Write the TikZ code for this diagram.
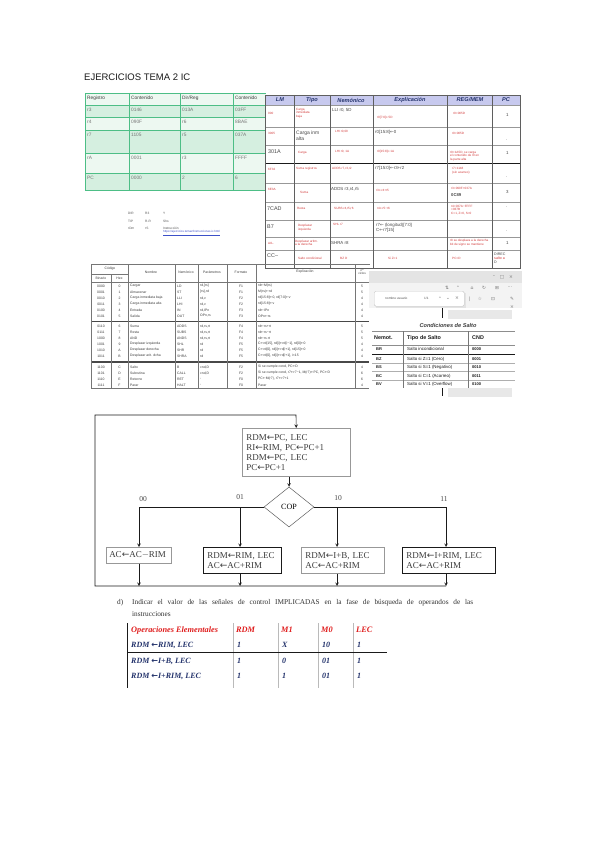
\documentclass[tikz,border=0pt]{standalone}
\usepackage{fontspec}
\setmainfont{Liberation Serif}
\setsansfont{Liberation Sans}
\newfontfamily\symfont{DejaVu Sans}
\usepackage{tikz}
\usetikzlibrary{positioning,shapes.geometric,arrows,calc}
\definecolor{ink}      {HTML}{1A1A1A}
\definecolor{mintline} {HTML}{4DBE86}
\definecolor{rowmint}  {HTML}{D5EFE0}
\definecolor{rowpale}  {HTML}{EDF8F1}
\definecolor{lavhead}  {HTML}{C7C9EE}
\definecolor{redtxt}   {HTML}{D23A3A}
\definecolor{navytxt}  {HTML}{24336C}
\definecolor{redhead}  {HTML}{E01E1E}
\definecolor{linkblue} {HTML}{3C50C8}
\definecolor{chrome}   {HTML}{E4E4E4}
\newcommand{\la}{{\symfont ←}}
\tikzset{
  >=stealth,
  % --- tabla de registros
  rg/.style   = {font=\sffamily\fontsize{4.8}{5.4}\selectfont, text=ink!60, anchor=north west, inner sep=0pt},
  rghd/.style = {rg, text=ink!85},
  % --- tabla LM
  lmhd/.style = {font=\sffamily\bfseries\itshape\fontsize{5.6}{6}\selectfont, text=navytxt, inner sep=0pt},
  rt/.style   = {font=\sffamily\fontsize{3.1}{3.7}\selectfont, text=redtxt, anchor=west, align=left, inner sep=0pt},
  bt/.style   = {font=\sffamily\fontsize{4.4}{5}\selectfont, text=ink!80, anchor=west, align=left, inner sep=0pt},
  bbt/.style  = {bt, font=\sffamily\fontsize{5.4}{6}\selectfont},
  % --- tabla de codigos
  mt/.style   = {font=\sffamily\fontsize{3.4}{4}\selectfont, text=ink!85, anchor=west, inner sep=0pt},
  mc/.style   = {mt, anchor=center},
  tiny/.style = {font=\sffamily\fontsize{3.2}{3.8}\selectfont, text=ink!75, anchor=west, inner sep=0pt},
  ico/.style  = {font=\symfont\fontsize{4.6}{5}\selectfont, text=ink!60, inner sep=0pt},
  st/.style   = {font=\sffamily\fontsize{4.4}{5}\selectfont, text=ink, anchor=west, inner sep=0pt},
  sthd/.style = {st, font=\sffamily\bfseries\fontsize{5.4}{6}\selectfont},
  % --- diagrama de flujo
  fbox/.style = {draw=ink!45, line width=0.5pt, fill=white, anchor=north west, align=left, text=ink!85,
                 font=\fontsize{9}{10}\selectfont, inner xsep=4pt, inner ysep=2pt},
  fboxk/.style= {fbox, draw=ink, line width=0.9pt},
  fl/.style   = {draw=ink, line width=0.6pt},
  fa/.style   = {fl, -stealth},
  blbl/.style = {font=\fontsize{7.5}{8}\selectfont, text=ink!80, anchor=south, inner sep=0pt},
  % --- apartado d)
  dtxt/.style = {font=\fontsize{7.3}{8}\selectfont, text=ink!90, anchor=west, inner sep=0pt},
  ohd/.style  = {font=\bfseries\itshape\fontsize{8.3}{9}\selectfont, text=redhead, anchor=west, inner sep=0pt},
  orow/.style = {font=\bfseries\itshape\fontsize{8}{9}\selectfont, text=navytxt, anchor=west, inner sep=0pt},
}
\begin{document}
\begin{tikzpicture}[x=1pt,y=-1pt]
  \useasboundingbox (0,0) rectangle (599,848);
  \fill[white] (0,0) rectangle (599,848);

  \node[anchor=west, font=\sffamily\fontsize{9.5}{10}\selectfont, text=ink, inner sep=0pt] (title) at (84,77) {EJERCICIOS TEMA 2 IC};

  % tabla de registros
  \fill[rowpale] (85,93) rectangle (266,105);
  \fill[rowmint] (85,105) rectangle (266,117);
  \fill[rowpale] (85,117) rectangle (266,130);
  \fill[rowmint] (85,130) rectangle (266,153);
  \fill[rowpale] (85,153) rectangle (266,173);
  \fill[rowmint] (85,173) rectangle (266,190);
  \foreach \yy in {93,105,117,130,153,173,190} \draw[mintline, line width=0.6pt] (85,\yy) -- (266,\yy);
  \foreach \xx in {85,129,180,233} \draw[mintline, line width=0.6pt] (\xx,93) -- (\xx,190);
  \node[rghd] (h1) at (87,96) {Registro};
  \node[rghd] (h2) at (131,96) {Contenido};
  \node[rghd] (h3) at (182,96) {Dir/Reg};
  \node[rghd] (h4) at (235,96) {Contenido};
  \foreach \yy/\ra/\rb/\rc/\rd in {108/r3/0146/013A/03FF, 120/r4/090F/r6/8BAE,
                                   133/r7/1105/r5/037A, 156/rA/0001/r3/FFFF, 176/PC/0000/2/6}{
    \node[rg] (a\ra) at (87,\yy) {\ra};
    \node[rg] (b\ra) at (131,\yy) {\rb};
    \node[rg] (c\ra) at (182,\yy) {\rc};
    \node[rg] (d\ra) at (235,\yy) {\rd};
  }

  % tabla LM
  \fill[lavhead] (265,95) rectangle (520,105);
  \foreach \yy in {105,127,145,183,202,220,237,250} \draw[ink!45, line width=0.4pt] (265,\yy) -- (520,\yy);
  \draw[ink, line width=0.9pt] (265,163) -- (520,163);
  \foreach \xx in {294,330,373,447,492} \draw[ink!70, line width=0.5pt] (\xx,95) -- (\xx,268);
  \draw[ink!70, line width=0.5pt] (265,95) rectangle (520,268);
  \node[lmhd] (lm) at (280,100) {LM};
  \node[lmhd] (tipo) at (312,100) {Tipo};
  \node[lmhd] (nem) at (351,100) {Nemónico};
  \node[lmhd] (expl) at (410,100) {Explicación};
  \node[lmhd] (regm) at (470,100) {REG/MEM};
  \node[lmhd] (pcol) at (506,100) {PC};
  % fila 1
  \node[rt] (r1lm) at (268,113) {000};
  \node[rt] (r1tp) at (296,113) {Carga\\inmediata\\baja};
  \node[bt] (r1nm) at (332,110) {LLI r0, 5D};
  \node[rt] (r1ex) at (377,118) {r0[7:0]\la 5D};
  \node[rt] (r1rg) at (453,113) {r0=005D};
  \node[bt] (r1pc) at (506,115) {1};
  % fila 2
  \node[rt] (r2lm) at (268,133) {3005};
  \node[bt, font=\sffamily\fontsize{5}{5.8}\selectfont] (r2tp) at (296,136) {Carga inm\\alta};
  \node[rt] (r2nm) at (335,132) {LHI r0,00};
  \node[bt] (r2ex) at (375,132) {r0[15:8]\la 0};
  \node[rt] (r2rg) at (452,133) {r0=005D};
  \node[bt] (r2pc) at (506,140) {.};
  % fila 3
  \node[bbt] (r3lm) at (268,152) {301A};
  \node[rt] (r3tp) at (298,153) {Carga};
  \node[rt] (r3nm) at (335,152) {LHI r0, 1A};
  \node[rt] (r3ex) at (377,152) {r0[15:8]\la 1A};
  \node[rt] (r3rg) at (450,156) {r0=1A5D, se carga\\el contenido de r0 en\\la parte alta};
  \node[bt] (r3pc) at (506,153) {1};
  % fila 4
  \node[rt] (r4lm) at (268,169) {6F32};
  \node[rt] (r4tp) at (296,169) {Suma registros};
  \node[rt] (r4nm) at (332,169) {ADDS r7,r3,r2};
  \node[bt] (r4ex) at (375,168) {r7[15:0]\la r3+r2};
  \node[rt] (r4rg) at (452,171) {r7=1148\\(sin acarreo)};
  \node[bt] (r4pc) at (506,177) {.};
  % fila 5
  \node[rt] (r5lm) at (268,189) {6E3A};
  \node[rt] (r5tp) at (300,192) {Suma};
  \node[bt] (r5nm) at (331,189) {ADDS r3,r4,r5};
  \node[rt] (r5ex) at (376,190) {r3\la r4+r5};
  \node[rt] (r5rg) at (451,188) {r3=090F+037A};
  \node[bt, font=\sffamily\bfseries\fontsize{4.2}{5}\selectfont] (r5rg2) at (451,195) {0C89};
  \node[bt] (r5pc) at (506,192) {3};
  % fila 6
  \node[bbt] (r6lm) at (267,209) {7CAD};
  \node[rt] (r6tp) at (297,208) {Resta};
  \node[rt] (r6nm) at (334,209) {SUBS r4,r5,r6};
  \node[rt] (r6ex) at (377,208) {r4\la r5−r6};
  \node[rt] (r6rg) at (451,210) {r4=037A−FFFF\\=037B\\C=1, Z=0, S=0};
  \node[bt] (r6pc) at (506,207) {.};
  % fila 7
  \node[bbt] (r7lm) at (267,227) {B7};
  \node[rt] (r7tp) at (298,228) {Desplazar\\izquierda};
  \node[rt] (r7nm) at (333,224) {SHL r7};
  \node[bt] (r7ex) at (376,228) {r7\la\ (longitud)[7:0]\\C\la r7[15]};
  \node[bt] (r7pc) at (506,231) {.};
  % fila 8
  \node[rt] (r8lm) at (268,243) {A8--};
  \node[rt] (r8tp) at (295,243) {Desplazar aritm.\\a la derecha};
  \node[bt] (r8nm) at (331,243) {SHRA r8};
  \node[rt] (r8rg) at (450,243) {r8 se desplaza a la derecha\\bit de signo se mantiene};
  \node[bt] (r8pc) at (506,243) {1};
  % fila 9
  \node[bbt] (r9lm) at (267,256) {CC--};
  \node[rt] (r9tp) at (298,258) {Salto condicional};
  \node[rt] (r9nm) at (340,258) {BZ D};
  \node[rt] (r9ex) at (388,258) {Si Z=1};
  \node[rt] (r9rg) at (452,258) {PC=D};
  \node[bt, font=\sffamily\fontsize{3.6}{4}\selectfont] (r9pc) at (494,258) {DIREC\\{\color{redtxt}salto a}\\D};

  % notas sueltas
  \node[tiny] (k1) at (128,213) {DIR};
  \node[tiny] (k2) at (145,213) {R3};
  \node[tiny] (k3) at (163,213) {Y};
  \node[tiny] (k4) at (128,221) {TIP};
  \node[tiny] (k5) at (145,221) {R-R};
  \node[tiny] (k6) at (163,221) {Shs};
  \node[tiny] (k7) at (128,228) {rDm};
  \node[tiny] (k8) at (145,228) {rS};
  \node[tiny] (k9) at (163,228) {Instrucción};
  \node[tiny, text=linkblue, font=\sffamily\fontsize{2.9}{3.4}\selectfont] (link) at (163,233) {\underline{https://ejercicios.tema2/instrucciones-ic.html}};

  % tabla de codigos de operacion
  \draw[ink!60, line width=0.4pt] (91,264.5) -- (370,264.5);
  \draw[ink!60, line width=0.4pt] (91,274) -- (128,274);
  \draw[ink!60, line width=0.4pt] (91,282) -- (370,282);
  \draw[ink!80, line width=0.9pt] (91,321) -- (370,321);
  \draw[ink!80, line width=0.4pt] (91,360.8) -- (370,360.8) (91,362.4) -- (370,362.4);
  \draw[ink!60, line width=0.4pt] (91,388) -- (370,388);
  \draw[ink!60, line width=0.4pt] (111,274) -- (111,388);
  \foreach \xx in {91,128,175,198,227,256,355} \draw[ink!60, line width=0.4pt] (\xx,264.5) -- (\xx,388);
  \node[mc] (tcod) at (110,269) {Código};
  \node[mc] (tbin) at (101,278) {Binario};
  \node[mc] (thex) at (119.5,278) {Hex};
  \node[mc] (tnom) at (151,272) {Nombre};
  \node[mc] (tnem) at (186,272) {Nemónico};
  \node[mc] (tpar) at (212,272) {Parámetros};
  \node[mc] (tfor) at (241,272) {Formato};
  \node[mc] (texp) at (305,272) {Explicación};
  \node[mc, align=center, font=\sffamily\fontsize{3}{3.4}\selectfont] (tcic) at (362,272) {nº\\ciclos};
  \foreach \y/\b/\h/\nm/\mn/\pa/\fo/\ex/\cy in {
     286/0000/0/Cargar/LD/{rd,[rs]}/F1/{rd\la M(rs)}/5,
     292/0001/1/Almacenar/ST/{[rs],rd}/F1/{M(rs)\la rd}/5,
     298/0010/2/Carga inmediata baja/LLI/{rd,v}/F2/{rd[15:8]\la 0, rd[7:0]\la v}/4,
     304/0011/3/Carga inmediata alta/LHI/{rd,v}/F2/{rd[15:8]\la v}/4,
     310/0100/4/Entrada/IN/{rd,IPn}/F3/{rd\la IPn}/4,
     316/0101/5/Salida/OUT/{OPn,rs}/F3/{OPn\la rs}/4,
     326/0110/6/Suma/ADDS/{rd,rs,rt}/F4/{rd\la rs+rt}/5,
     332/0111/7/Resta/SUBS/{rd,rs,rt}/F4/{rd\la rs−rt}/5,
     338/1000/8/AND/ANDS/{rd,rs,rt}/F4/{rd\la rs·rt}/5,
     344/1001/9/Desplazar izquierda/SHL/rd/F5/{C\la rd[15], rd[i]\la rd[i−1], rd[0]\la 0}/4,
     350/1010/A/Desplazar derecha/SHR/rd/F5/{C\la rd[0], rd[i]\la rd[i+1], rd[15]\la 0}/4,
     356/1011/B/Desplazar arit. dcha/SHRA/rd/F5/{C\la rd[0], rd[i]\la rd[i+1], i<15}/4,
     367/1100/C/Salto/B/{cnd,D}/F2/{Si se cumple cond, PC\la D}/4,
     373/1101/D/Subrutina/CALL/{cnd,D}/F2/{Si se cumple cond, r7\la r7−1, M(r7)\la PC, PC\la D}/6,
     379/1110/E/Retorno/RET/-/F0/{PC\la M(r7), r7\la r7+1}/6,
     385/1111/F/Parar/HALT/-/F0/Parar/4}{
    \node[mc] (bin\b) at (101,\y) {\b};
    \node[mc] (hex\b) at (119.5,\y) {\h};
    \node[mt] (nom\b) at (130,\y) {\nm};
    \node[mt] (nem\b) at (177,\y) {\mn};
    \node[mt] (par\b) at (200,\y) {\pa};
    \node[mc] (for\b) at (241,\y) {\fo};
    \node[mt] (exp\b) at (258,\y) {\ex};
    \node[mc] (cic\b) at (362,\y) {\cy};
  }

  % captura del navegador: condiciones de salto
  \fill[white] (369,269) rectangle (522,397);
  \fill[chrome] (369,271) rectangle (522,283);
  \node[ico] (imin) at (494,277) {–};
  \node[ico] (imax) at (502,277) {□};
  \node[ico] (icls) at (511,277) {×};
  \fill[chrome!45] (369,283) rectangle (522,308);
  \node[ico] (i1) at (447,288) {⇅};
  \node[ico] (i2) at (458,288) {⌃};
  \node[ico] (i3) at (472,288) {⌂};
  \node[ico] (i4) at (484,288) {↻};
  \node[ico] (i5) at (497,288) {⊞};
  \node[ico] (i6) at (510,288) {⋯};
  \node[ico] (i7) at (470,299) {|};
  \node[ico] (i8) at (480,299) {☆};
  \node[ico] (i9) at (493,299) {⊡};
  \node[ico] (i10) at (512,299) {✎};
  \node[ico] (i11) at (512,307) {×};
  \fill[ink!12] (376,293) rectangle (466,308);
  \node[draw=ink!25, fill=white, rounded corners=1.5pt, minimum width=90pt, minimum height=15pt,
        anchor=north west, inner sep=0pt] (find) at (374,291) {};
  \node[tiny] (fq) at (385,298.5) {nombre usuario};
  \node[tiny] (fn) at (424,298.5) {1/1};
  \node[ico] (fu) at (440,298.5) {⌃};
  \node[ico] (fd) at (448,298.5) {⌄};
  \node[ico] (fx) at (457,298.5) {×};
  \fill[ink!10] (448,310) rectangle (512,319);
  \fill[ink!10] (448,388) rectangle (512,397);
  \draw[ink, line width=0.7pt] (442,308) -- (442,318) (442,388) -- (442,396);
  \node[font=\sffamily\bfseries\itshape\fontsize{5.6}{6}\selectfont, text=ink!85, inner sep=0pt] (csal) at (448,325) {Condiciones de Salto};
  \draw[ink!50, line width=0.4pt] (372,331) -- (515,331) (372,345) -- (515,345);
  \draw[ink, line width=1pt] (372,354) -- (515,354);
  \foreach \yy in {363,371.5,380} \draw[ink!35, line width=0.4pt] (372,\yy) -- (515,\yy);
  \foreach \xx in {403,468} \draw[ink!60, line width=0.5pt] (\xx,331) -- (\xx,388);
  \node[sthd] (cn1) at (374,338) {Nemot.};
  \node[sthd] (cn2) at (407,338) {Tipo de Salto};
  \node[sthd] (cn3) at (472,338) {CND};
  \foreach \y/\mn/\ts/\cn in {349/BR/Salto incondicional/0000, 359/BZ/Salto si Z=1 (Cero)/0001,
                              367/BS/Salto si S=1 (Negativo)/0010, 376/BC/Salto si C=1 (Acarreo)/0011,
                              384/BV/Salto si V=1 (Overflow)/0100}{
    \node[st, font=\sffamily\bfseries\fontsize{4}{5}\selectfont] (cm\mn) at (376,\y) {\mn};
    \node[st] (ct\mn) at (407,\y) {\ts};
    \node[st, font=\sffamily\bfseries\fontsize{4}{5}\selectfont] (cc\mn) at (472,\y) {\cn};
  }

  % diagrama de flujo
  \node[fbox, minimum width=108pt, minimum height=48pt, text width=100pt] (fetch) at (242,428)
       {RDM\la PC, LEC\\RI\la RIM, PC\la PC+1\\RDM\la PC, LEC\\PC\la PC+1};
  \node[diamond, draw=ink!70, line width=0.5pt, fill=white, minimum width=50pt, minimum height=40pt,
        inner sep=0pt, font=\fontsize{8}{9}\selectfont] (cop) at (289,507) {COP};
  \node[fbox, minimum width=65pt, minimum height=16pt, text width=59pt, inner xsep=3pt] (b00) at (106,547) {AC\la AC$-$RIM};
  \node[fboxk, minimum width=78pt, minimum height=26pt, text width=70pt] (b01) at (203,547) {RDM\la RIM, LEC\\AC\la AC+RIM};
  \node[fbox, minimum width=83pt, minimum height=26pt, text width=75pt] (b10) at (301,547) {RDM\la I+B, LEC\\AC\la AC+RIM};
  \node[fboxk, minimum width=93pt, minimum height=26pt, text width=85pt] (b11) at (402,547) {RDM\la I+RIM, LEC\\AC\la AC+RIM};
  \coordinate (br00) at (139,507);
  \coordinate (br01) at (240,507);
  \coordinate (br10) at (337,507);
  \coordinate (br11) at (446,507);
  \coordinate (retL) at (95,586);
  \coordinate (retR) at (446,586);
  \coordinate (topRet) at (296,415);
  \draw[fa] (cop.north |- fetch.south) -- (cop.north);
  \draw[fl] (br00) -- (cop.west);
  \draw[fl] (cop.east) -- (br11);
  \draw[fa] (br00) -- (br00 |- b00.north);
  \draw[fa] (br01) -- (br01 |- b01.north);
  \draw[fa] (br10) -- (br10 |- b10.north);
  \draw[fa] (br11) -- (br11 |- b11.north);
  \draw[fa] (br00 |- b00.south) -- (br00 |- retL);
  \draw[fa] (br01 |- b01.south) -- (br01 |- retL);
  \draw[fa] (br10 |- b10.south) -- (br10 |- retL);
  \draw[fa] (br11 |- b11.south) -- (br11 |- retL);
  \draw[fa] (retR) -- (retL) |- (topRet) -- (fetch.north);
  \node[blbl] (l00) at (143,502) {00};
  \node[blbl] (l01) at (240,500) {01};
  \node[blbl] (l10) at (338,501) {10};
  \node[blbl] (l11) at (444,502) {11};

  % apartado d)
  \node[dtxt] (dlet) at (117,603) {d)};
  \node[dtxt] (dq1) at (132,603) {\makebox[341pt][s]{Indicar el valor de las señales de control IMPLICADAS en la fase de búsqueda de operandos de las}};
  \node[dtxt] (dq2) at (132,614) {instrucciones};
  \draw[ink, line width=0.8pt] (127,623) -- (127,688);
  \foreach \xx in {233,278,318,353} \draw[ink!30, line width=0.4pt] (\xx,623) -- (\xx,688);
  \draw[ink, line width=0.6pt] (127,652) -- (387,652);
  \node[ohd] (oh1) at (131,630) {Operaciones Elementales};
  \node[ohd] (oh2) at (236,630) {RDM};
  \node[ohd] (oh3) at (281,630) {M1};
  \node[ohd] (oh4) at (321,630) {M0};
  \node[ohd] (oh5) at (356,630) {LEC};
  \foreach \y/\op/\va/\vb/\vc/\vd in {645/{RDM \la RIM, LEC}/1/X/10/1, 661/{RDM \la I+B, LEC}/1/0/01/1,
                                      676/{RDM \la I+RIM, LEC}/1/1/01/1}{
    \node[orow] (op\y) at (131,\y) {\op};
    \node[orow] (va\y) at (237,\y) {\va};
    \node[orow] (vb\y) at (282,\y) {\vb};
    \node[orow] (vc\y) at (322,\y) {\vc};
    \node[orow] (vd\y) at (357,\y) {\vd};
  }
\end{tikzpicture}
\end{document}
